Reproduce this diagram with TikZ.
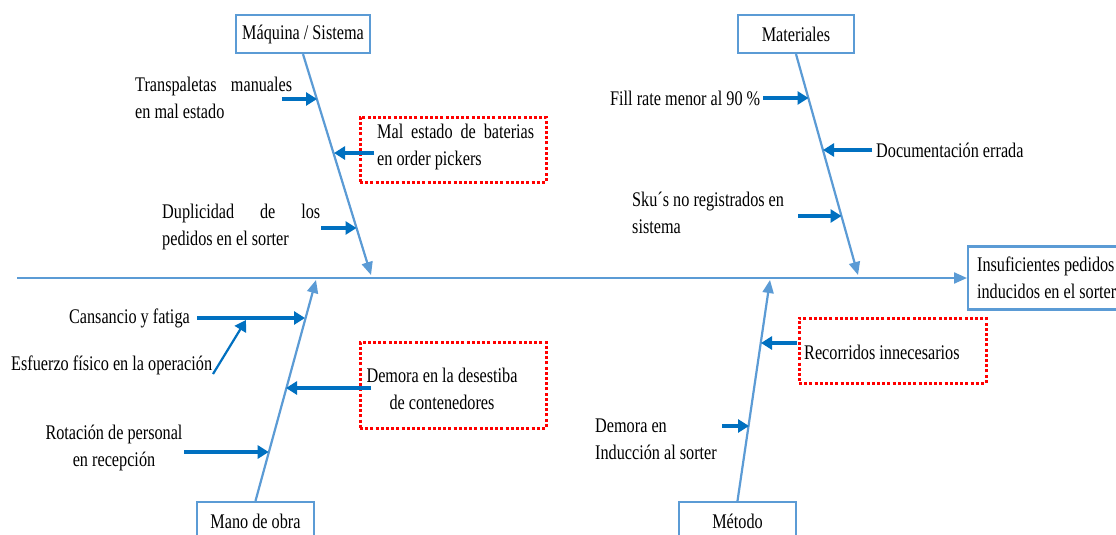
\documentclass[tikz,border=0pt]{standalone}
\usepackage{fontspec}
\setmainfont[FakeStretch=0.78]{Liberation Serif}
\usetikzlibrary{arrows.meta}
\definecolor{bonec}{HTML}{5B9BD5}
\definecolor{causec}{HTML}{0070C0}
\tikzset{
  bonel/.style={draw=bonec, line width=2.2pt, -{Triangle[length=13pt,width=11pt]}},
  cause/.style={draw=causec, line width=3.2pt, -{Triangle[length=11pt,width=13pt]}},
  catbox/.style={draw=bonec, line width=2.2pt, fill=white, minimum height=38pt, inner sep=0pt, font=\fontsize{20.8}{27}\selectfont},
  redbox/.style={draw=red, line width=3pt, dash pattern=on 3pt off 2.2pt, inner sep=0pt},
  lbl/.style={inner sep=0pt, font=\fontsize{20.8}{27}\selectfont, align=left},
}
\begin{document}
\begin{tikzpicture}[x=1pt,y=-1pt]
\clip (0,0) rectangle (1116,535);
\fill[white] (0,0) rectangle (1116,535);

% effect box and spine
\node[draw=bonec, line width=2.2pt, minimum height=63pt, inner xsep=9pt, inner ysep=0pt,
      align=left, anchor=west, font=\fontsize{20.8}{27}\selectfont]
      (eff) at (967,278) {Insuficientes pedidos\\inducidos en el sorter};
\coordinate (sp0) at (17,278);
\draw[bonel] (sp0) -- (eff.west);

% category boxes
\node[catbox, minimum width=134pt] (mq) at (303,34) {Máquina / Sistema};
\node[catbox, minimum width=116pt] (mt) at (796,34) {Materiales};
\node[catbox, minimum width=117pt] (mo) at (255.5,521) {Mano de obra};
\node[catbox, minimum width=117pt] (me) at (737.5,521) {Método};

% bones
\coordinate (mqt) at (371,275);
\coordinate (mtt) at (858,275);
\coordinate (mot) at (316,280);
\coordinate (met) at (770,280);
\draw[bonel] (mq.south) -- (mqt);
\draw[bonel] (mt.south) -- (mtt);
\draw[bonel] (mo.north) -- (mot);
\draw[bonel] (me.north) -- (met);

% red dotted boxes
\node[redbox, minimum width=186pt, minimum height=65pt] (rb1) at (453,149.5) {};
\node[redbox, minimum width=186pt, minimum height=86pt] (rb2) at (453,385) {};
\node[redbox, minimum width=187pt, minimum height=65pt] (rb3) at (892.5,350.5) {};

% Maquina causes
\node[lbl, anchor=west] (t1) at (135,97.5) {\makebox[157pt][s]{Transpaletas manuales}\\en mal estado};
\node[lbl, anchor=west] (t2) at (377,147) {\makebox[157pt][s]{Mal estado de baterias}\\en order pickers};
\node[lbl, anchor=west] (t3) at (162,227) {\makebox[158pt][s]{Duplicidad de los}\\pedidos en el sorter};
\coordinate (a1s) at (282,99);  \coordinate (a1e) at (317,99);
\coordinate (a2s) at (374,153); \coordinate (a2e) at (334,153);
\coordinate (a3s) at (321,228); \coordinate (a3e) at (356.5,228);
\draw[cause] (a1s) -- (a1e);
\draw[cause] (a2s) -- (a2e);
\draw[cause] (a3s) -- (a3e);

% Materiales causes
\node[lbl, anchor=west] (t4) at (610,98) {Fill rate menor al 90 \%};
\node[lbl, anchor=west] (t5) at (876,150) {Documentación errada};
\node[lbl, anchor=west] (t6) at (632,212.5) {Sku´s no registrados en\\sistema};
\coordinate (a4s) at (763,98);  \coordinate (a4e) at (808.5,98);
\coordinate (a5s) at (872,150); \coordinate (a5e) at (823,150);
\coordinate (a6s) at (798,216); \coordinate (a6e) at (841.5,216);
\draw[cause] (a4s) -- (a4e);
\draw[cause] (a5s) -- (a5e);
\draw[cause] (a6s) -- (a6e);

% Mano de obra causes
\node[lbl, anchor=east] (t7) at (190,318) {Cansancio y fatiga};
\node[lbl, anchor=west] (t8) at (11,365) {Esfuerzo físico en la operación};
\node[lbl, anchor=center, align=center] (t9) at (442,388.5) {Demora en la desestiba\\de contenedores};
\node[lbl, anchor=center, align=center] (t10) at (114,447.5) {Rotación de personal\\en recepción};
\coordinate (a7s) at (197,318); \coordinate (a7e) at (305,318);
\coordinate (a8s) at (213,374); \coordinate (a8e) at (246,320);
\coordinate (a9s) at (371,388); \coordinate (a9e) at (286,388);
\coordinate (a10s) at (184,452); \coordinate (a10e) at (268.7,452);
\draw[cause] (a7s) -- (a7e);
\draw[cause, line width=2.2pt] (a8s) -- (a8e);
\draw[cause] (a9s) -- (a9e);
\draw[cause] (a10s) -- (a10e);

% Metodo causes
\node[lbl, anchor=west] (t11) at (804,352) {Recorridos innecesarios};
\node[lbl, anchor=west] (t12) at (595,439) {Demora en\\Inducción al sorter};
\coordinate (a11s) at (797,343); \coordinate (a11e) at (761,343);
\coordinate (a12s) at (722,426); \coordinate (a12e) at (749,426);
\draw[cause] (a11s) -- (a11e);
\draw[cause] (a12s) -- (a12e);
\end{tikzpicture}
\end{document}
